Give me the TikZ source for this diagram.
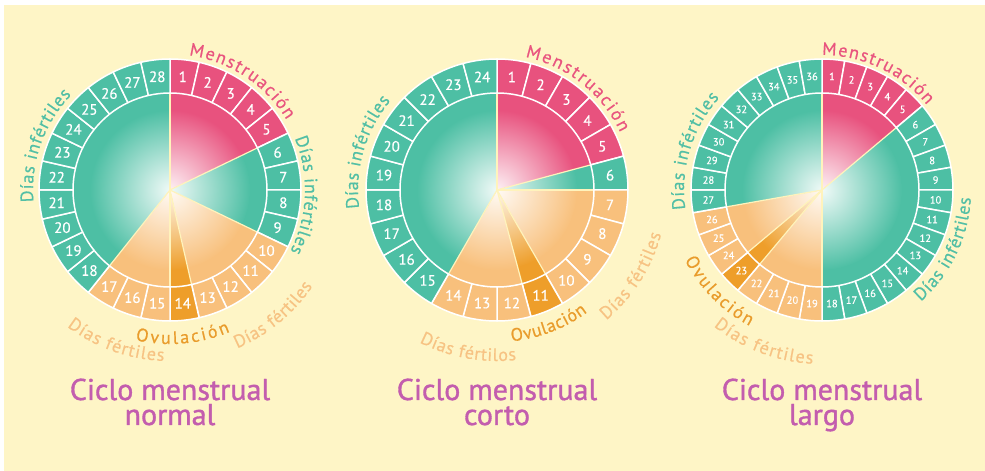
\documentclass[tikz,border=0pt]{standalone}
\usepackage{fontspec}
\setmainfont{PT Sans}
\newfontface\labelfont{PT Sans}[FakeBold=0.5]
\newfontface\titlefont{PT Sans}[FakeBold=1.2]
\usetikzlibrary{decorations.text}
\definecolor{bgc}{HTML}{FEF5C6}
\definecolor{pinkc}{HTML}{E8527E}
\definecolor{tealc}{HTML}{4DBFA4}
\definecolor{orangec}{HTML}{F8C07C}
\definecolor{ovc}{HTML}{EE9E2A}
\definecolor{seplc}{HTML}{FFF3BC}
\definecolor{lpink}{HTML}{E9557F}
\definecolor{lteal}{HTML}{52BFA5}
\definecolor{lfert}{HTML}{F7C383}
\definecolor{lovul}{HTML}{E99C2C}
\definecolor{titlec}{HTML}{C35DAE}
\def\rin{97}
\def\rout{131}
\def\rmid{114}
\tikzset{
  cell/.style={draw=white, line width=1.5pt, line join=round},
  sepline/.style={draw=seplc, line width=1.2pt},
  daynum/.style={text=white, inner sep=0pt},
  titletext/.style={text=titlec, inner sep=0pt, anchor=base, font=\titlefont\fontsize{30}{30}\selectfont},
}
\newcommand\cyclesector[3]{%
  \pgfmathsetmacro\sA{90-(#1-1)*\cycstep}%
  \pgfmathsetmacro\sB{90-(#2)*\cycstep}%
  \begin{scope}
    \clip (0,0) -- (\sA:\rin) arc[start angle=\sA, end angle=\sB, radius=\rin] -- cycle;
    \fill[#3] (0,0) circle (\rin);
    \shade[inner color=#3!8!white, outer color=#3] (0,0) circle (80);
  \end{scope}
}
\newcommand\cycleseps[1]{%
  \pgfmathsetmacro\sA{90-(#1-1)*\cycstep}%
  \draw[sepline] (0,0) -- (\sA:\rin);
}
% #1 N, #2 last teal (first block), #3 ovulation day, #4 last orange, #5 prefix, #6 number size
\newcommand\cyclechart[6]{%
  \pgfmathsetmacro\cycstep{360/#1}%
  \cyclesector{1}{5}{pinkc}
  \cyclesector{6}{#2}{tealc}
  \cyclesector{#2+1}{#3-1}{orangec}
  \cyclesector{#3}{#3}{ovc}
  \cyclesector{#3+1}{#4}{orangec}
  \cyclesector{#4+1}{#1}{tealc}
  \cycleseps{1}\cycleseps{6}\cycleseps{#2+1}\cycleseps{#3}\cycleseps{#3+1}\cycleseps{#4+1}
  \foreach \i in {1,...,#1}{
    \pgfmathsetmacro\ca{90-(\i-1)*\cycstep}
    \pgfmathsetmacro\cb{90-\i*\cycstep}
    \pgfmathsetmacro\cm{90-(\i-0.5)*\cycstep}
    \ifnum\i<6 \def\cc{pinkc}\else\ifnum\i>#4 \def\cc{tealc}\else\ifnum\i=#3 \def\cc{ovc}\else\ifnum\i>#2 \def\cc{orangec}\else\def\cc{tealc}\fi\fi\fi\fi
    \filldraw[cell, fill=\cc] (\ca:\rin) arc[start angle=\ca, end angle=\cb, radius=\rin] -- (\cb:\rout) arc[start angle=\cb, end angle=\ca, radius=\rout] -- cycle;
    \node[daynum, font=\labelfont\fontsize{#6}{#6}\selectfont] (#5\i) at (\cm:\rmid) {\i};
  }
}
% #1 colour, #2 size, #3 text, #4 start, #5 end, #6 radius
\newcommand\arclabel[6]{%
  \path[decorate, decoration={text along path, text align={fit to path},
     text={|\labelfont\fontsize{#2}{#2}\selectfont\color{#1}|#3}}]
     (#4:#6) arc[start angle=#4, end angle=#5, radius=#6];
}
\begin{document}
\begin{tikzpicture}[x=1pt,y=1pt]
\useasboundingbox (0,0) rectangle (985,471);
\fill[white] (0,0) rectangle (985,471);
\fill[bgc] (4,0) rectangle (985,466);

% ---------- chart 1: normal ----------
\begin{scope}[shift={(170,281)}]
  \cyclechart{28}{9}{14}{17}{A}{15}
  \arclabel{lpink}{18}{Menstruación}{82}{31}{136}
  \arclabel{lteal}{18}{Días infértiles}{22.5}{-27}{135}
  \arclabel{lteal}{18}{Días infértiles}{185}{136}{137}
  \arclabel{lfert}{18}{Días fértiles}{-127}{-92}{171}
  \arclabel{lovul}{18}{Ovulación}{-103}{-67}{154}
  \arclabel{lfert}{18}{Días fértiles}{-67}{-34}{172}
\end{scope}

% ---------- chart 2: corto ----------
\begin{scope}[shift={(497,281)}]
  \cyclechart{24}{6}{11}{14}{B}{15}
  \arclabel{lpink}{18}{Menstruación}{78}{25}{136}
  \arclabel{lteal}{18}{Días infértiles}{187.5}{140}{139}
  \arclabel{lfert}{18}{Días fértiles}{-50}{-15}{170}
  \arclabel{lovul}{18}{Ovulación}{-84.5}{-53.5}{152}
  \arclabel{lfert}{18}{Días fértilos}{-117}{-83.5}{171}
\end{scope}

% ---------- chart 3: largo ----------
\begin{scope}[shift={(822,281)}]
  \cyclechart{36}{18}{23}{26}{C}{10.5}
  \arclabel{lpink}{18}{Menstruación}{90}{39}{135}
  \arclabel{lteal}{18}{Días infértiles}{188}{138}{138}
  \arclabel{lteal}{18}{Días infértiles}{-48.5}{-3}{149}
  \arclabel{lovul}{18}{Ovulación}{-153}{-118}{154}
  \arclabel{lfert}{18}{Días fértiles}{-128.5}{-93}{174}
\end{scope}

% ---------- titles ----------
\node[titletext] (t1a) at (170,71) {Ciclo menstrual};
\node[titletext] (t1b) at (170,46) {normal};
\node[titletext] (t2a) at (497,71) {Ciclo menstrual};
\node[titletext] (t2b) at (497,46) {corto};
\node[titletext] (t3a) at (822,71) {Ciclo menstrual};
\node[titletext] (t3b) at (822,46) {largo};
\end{tikzpicture}
\end{document}
